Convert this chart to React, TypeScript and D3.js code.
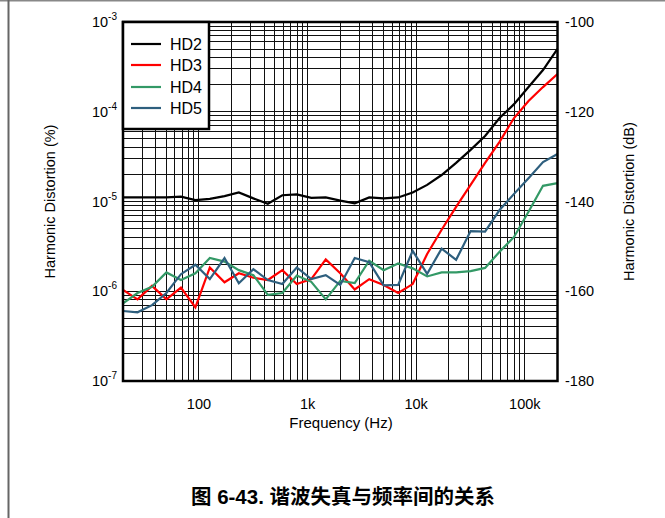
import React from "react";
import * as d3 from "d3";

const freqs = [20, 27.2, 37.0, 50.2, 68.3, 92.8, 126, 172, 233, 317, 431, 586, 796, 1082, 1471, 2000, 2718, 3696, 5024, 6829, 9283, 12619, 17153, 23316, 31694, 43082, 58562, 79604, 108206, 147085, 200000];

const hd2 = [-139.1, -139.1, -139.1, -139.1, -138.9, -139.7, -139.4, -138.8, -138.0, -139.3, -140.5, -138.6, -138.4, -139.2, -139.1, -139.8, -140.4, -139.1, -139.3, -139.1, -138.0, -136.3, -134.1, -131.4, -128.5, -125.4, -121.4, -118.3, -114.5, -110.7, -106.0];
const hd3 = [-159.7, -161.8, -158.8, -161.8, -159.2, -163.6, -154.7, -158.0, -156.0, -157.0, -157.5, -155.3, -158.4, -157.3, -152.9, -156.0, -159.6, -157.3, -158.6, -160.4, -158.4, -151.7, -146.3, -141.2, -136.3, -131.4, -126.7, -121.4, -117.6, -114.5, -111.6];
const hd4 = [-162.7, -160.4, -159.0, -155.8, -157.5, -156.0, -152.6, -153.4, -155.3, -156.4, -160.8, -160.4, -156.5, -157.9, -161.8, -157.7, -158.2, -153.2, -155.3, -153.8, -154.9, -156.7, -155.8, -155.8, -155.5, -154.8, -151.2, -147.9, -142.3, -136.5, -135.9];
const hd5 = [-164.4, -164.7, -163.1, -160.4, -156.2, -154.1, -157.3, -152.6, -158.2, -155.1, -157.5, -158.4, -154.7, -157.3, -156.4, -158.6, -152.6, -153.5, -158.7, -158.6, -151.0, -156.1, -150.5, -153.0, -146.6, -146.7, -141.9, -138.3, -134.8, -131.2, -129.4];

const seriesNames = ["HD2", "HD3", "HD4", "HD5"];
const seriesData = [hd2, hd3, hd4, hd5];
const seriesColors = ["#000000", "#ff0000", "#339966", "#2e5f7e"];

const xTickValues = [100, 1000, 10000, 100000];
const xTickLabels = ["100", "1k", "10k", "100k"];
const yLeftTickValues = [1e-3, 1e-4, 1e-5, 1e-6, 1e-7];
const yLeftExponents = ["-3", "-4", "-5", "-6", "-7"];
const yRightTickValues = [-100, -120, -140, -160, -180];

const xLabel = "Frequency (Hz)";
const yLeftLabel = "Harmonic Distortion (%)";
const yRightLabel = "Harmonic Distortion (dB)";
const title = "图 6-43. 谐波失真与频率间的关系";

export default function App() {
  const W = 665, H = 518;
  const left = 123, right = 557.5, top = 22, bottom = 381;
  const x = d3.scaleLog().domain([20, 200000]).range([left, right]);
  const yL = d3.scaleLog().domain([1e-7, 1e-3]).range([bottom, top]);
  const yR = d3.scaleLinear().domain([-180, -100]).range([bottom, top]);

  const vGrid: number[] = [];
  for (let e = 1; e <= 5; e++) {
    for (let m = 1; m <= 9; m++) {
      const v = m * Math.pow(10, e);
      if (v > 20 && v < 200000) vGrid.push(v);
    }
  }
  const hGrid: number[] = [];
  for (let e = -7; e < -3; e++) {
    for (let m = 1; m <= 9; m++) {
      const v = m * Math.pow(10, e);
      if (v > 1e-7 && v < 1e-3) hGrid.push(v);
    }
  }

  const line = d3
    .line<number>()
    .x((_, i) => x(freqs[i]))
    .y((d) => yR(d));

  const font = "'Liberation Sans', Arial, sans-serif";
  const legendY = [44, 65, 87, 108];

  return (
    <svg
      width={W}
      height={H}
      style={{ position: "absolute", left: 0, top: 0, background: "#fff" }}
      fontFamily={font}
    >
      <rect x={0} y={0} width={W} height={H} fill="#fff" />
      <line x1={0} x2={W} y1={0.5} y2={0.5} stroke="#888" strokeWidth={2} />
      <line x1={8.5} x2={8.5} y1={0} y2={H} stroke="#666" strokeWidth={2} />

      <g shapeRendering="crispEdges">
        {vGrid.map((v) => (
          <line key={"v" + v} x1={x(v)} x2={x(v)} y1={top} y2={bottom} stroke="#111" strokeWidth={1} />
        ))}
        {hGrid.map((v) => (
          <line key={"h" + v} x1={left} x2={right} y1={yL(v)} y2={yL(v)} stroke="#111" strokeWidth={1} />
        ))}
      </g>

      {seriesData.map((s, k) => (
        <path
          key={seriesNames[k]}
          d={line(s) || ""}
          fill="none"
          stroke={seriesColors[k]}
          strokeWidth={2.2}
          strokeLinejoin="miter"
        />
      ))}

      <rect x={left} y={top} width={right - left} height={bottom - top} fill="none" stroke="#000" strokeWidth={2.5} />

      <rect x={left} y={top} width={86} height={107} fill="#fff" stroke="#000" strokeWidth={2.5} />
      {seriesNames.map((n, k) => (
        <g key={"lg" + n}>
          <line x1={131} x2={161} y1={legendY[k]} y2={legendY[k]} stroke={seriesColors[k]} strokeWidth={2.2} />
          <text x={170} y={legendY[k] + 5.5} fontSize={16} fill="#000">
            {n}
          </text>
        </g>
      ))}

      {xTickValues.map((v, i) => (
        <text key={"xt" + v} x={x(v)} y={409} fontSize={14.5} textAnchor="middle" fill="#000">
          {xTickLabels[i]}
        </text>
      ))}
      <text x={341} y={428} fontSize={15} textAnchor="middle" fill="#000">
        {xLabel}
      </text>

      {yLeftTickValues.map((v, i) => (
        <text key={"yl" + v} x={117} y={yL(v) + 5} fontSize={14.5} textAnchor="end" fill="#000">
          10
          <tspan fontSize={10} dy={-7}>
            {yLeftExponents[i]}
          </tspan>
        </text>
      ))}
      <text
        transform={`translate(55, ${(top + bottom) / 2}) rotate(-90)`}
        fontSize={14.5}
        textAnchor="middle"
        fill="#000"
      >
        {yLeftLabel}
      </text>

      {yRightTickValues.map((v) => (
        <text key={"yr" + v} x={565} y={yR(v) + 5} fontSize={14.5} textAnchor="start" fill="#000">
          {v}
        </text>
      ))}
      <text
        transform={`translate(634, ${(top + bottom) / 2}) rotate(-90)`}
        fontSize={14.5}
        textAnchor="middle"
        fill="#000"
      >
        {yRightLabel}
      </text>

      <text
        x={343}
        y={504}
        fontSize={20.5}
        fontWeight="bold"
        textAnchor="middle"
        fill="#000"
        fontFamily="'Liberation Sans', 'Noto Sans CJK SC', sans-serif"
      >
        {title}
      </text>
    </svg>
  );
}
